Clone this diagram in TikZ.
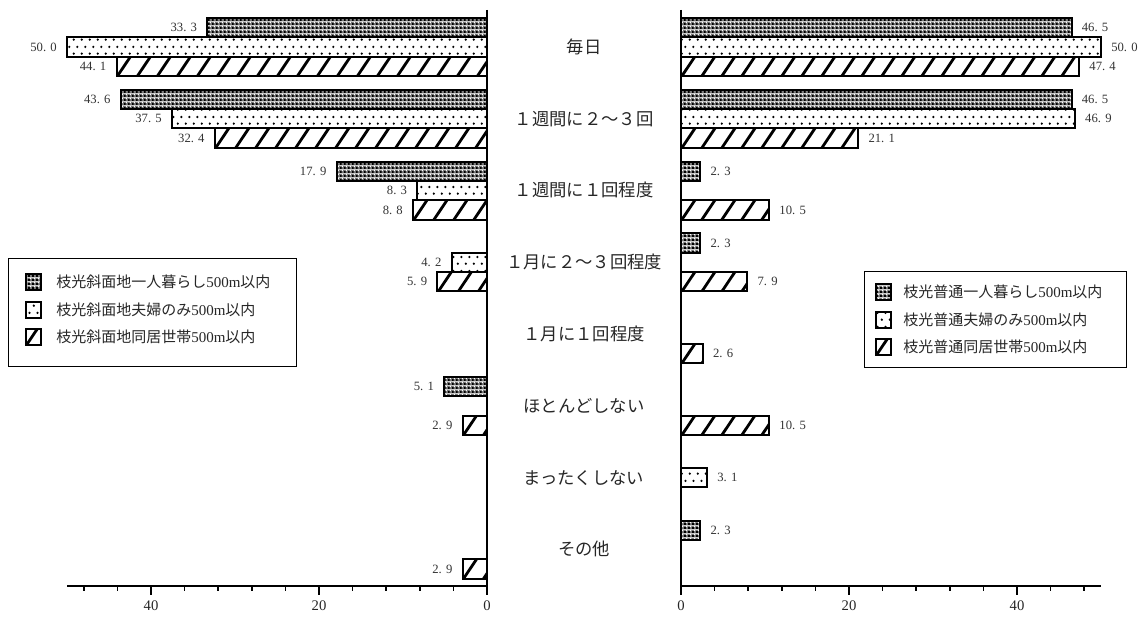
\documentclass[tikz,border=0pt]{standalone}
\usepackage{fontspec}
\setmainfont{Liberation Serif}
\newfontfamily\jp{Noto Sans CJK JP}
\newfontfamily\numfont{Liberation Serif}
\usetikzlibrary{patterns}

\pgfdeclarepatternformonly{mydots}{\pgfqpoint{0pt}{0pt}}{\pgfqpoint{6pt}{10.5pt}}{\pgfqpoint{6pt}{10.5pt}}{%
  \pgfpathcircle{\pgfqpoint{1.5pt}{2.6pt}}{1pt}%
  \pgfpathcircle{\pgfqpoint{4.5pt}{7.85pt}}{1pt}%
  \pgfusepath{fill}}

\pgfdeclarepatterninherentlycolored{mygray}{\pgfqpoint{0pt}{0pt}}{\pgfqpoint{3pt}{3pt}}{\pgfqpoint{3pt}{3pt}}{%
  \pgfsetfillcolor{black!55}%
  \pgfpathrectangle{\pgfqpoint{0pt}{0pt}}{\pgfqpoint{3pt}{3pt}}\pgfusepath{fill}%
  \pgfsetfillcolor{black}%
  \pgfpathrectangle{\pgfqpoint{0pt}{0pt}}{\pgfqpoint{1.6pt}{1.6pt}}\pgfusepath{fill}%
  \pgfsetfillcolor{white}%
  \pgfpathrectangle{\pgfqpoint{1.7pt}{1.7pt}}{\pgfqpoint{1pt}{1pt}}\pgfusepath{fill}}

\tikzset{
  bar/.style={draw, line width=1.5pt, inner sep=0pt, outer sep=0pt, minimum height=14.5pt},
  gbar/.style={bar, pattern=mygray},
  dbar/.style={bar, pattern=mydots},
  hatchfill/.style={path picture={
      \foreach \i in {-1,...,22}
        \draw[line width=2.1pt] ([xshift=\i*15pt, yshift=-1pt]path picture bounding box.south west) -- ++(10.4pt,15.5pt);
  }},
  hbar/.style={bar, fill=white, hatchfill},
  val/.style={font=\numfont\fontsize{9.5pt}{10pt}\selectfont, text=black!80, inner sep=0pt},
  cat/.style={font=\jp\fontsize{13pt}{15pt}\selectfont, text=black!85, inner sep=0pt},
  ticklab/.style={font=\fontsize{11pt}{12pt}\selectfont, text=black!85, inner sep=0pt},
  axisline/.style={line width=1.5pt},
  baseline/.style={line width=1.1pt},
  legbox/.style={draw, line width=0.7pt, inner sep=0pt, anchor=north west},
  swatch/.style={draw, line width=1.4pt, inner sep=0pt, minimum size=11.5pt},
  legtext/.style={font=\fontsize{11.25pt}{13pt}\selectfont, text=black!85, inner sep=0pt, anchor=west},
}

\begin{document}
\begin{tikzpicture}[x=0.75pt, y=-0.75pt]
\useasboundingbox (0,0) rectangle (1145,617);

% ---------- left chart bars ----------
\foreach \c/\v/\t in {0/33.3/{33. 3}, 1/43.6/{43. 6}, 2/17.9/{17. 9}, 5/5.1/{5. 1}} {
  \pgfmathsetmacro\yc{18+71.8*\c+9.67}
  \node[gbar, anchor=east, minimum width=6.3*\v pt] (bl-\c-0) at (487,\yc) {};
  \node[val, anchor=east] (tl-\c-0) at ([xshift=-7.5pt]bl-\c-0.west) {\t};
}
\foreach \c/\v/\t in {0/50.0/{50. 0}, 1/37.5/{37. 5}, 2/8.3/{8. 3}, 3/4.2/{4. 2}} {
  \pgfmathsetmacro\yc{18+71.8*\c+29}
  \node[dbar, anchor=east, minimum width=6.3*\v pt] (bl-\c-1) at (487,\yc) {};
  \node[val, anchor=east] (tl-\c-1) at ([xshift=-7.5pt]bl-\c-1.west) {\t};
}
\foreach \c/\v/\t in {0/44.1/{44. 1}, 1/32.4/{32. 4}, 2/8.8/{8. 8}, 3/5.9/{5. 9}, 5/2.9/{2. 9}, 7/2.9/{2. 9}} {
  \pgfmathsetmacro\yc{18+71.8*\c+48.33}
  \node[hbar, anchor=east, minimum width=6.3*\v pt] (bl-\c-2) at (487,\yc) {};
  \node[val, anchor=east] (tl-\c-2) at ([xshift=-7.5pt]bl-\c-2.west) {\t};
}

% ---------- right chart bars ----------
\foreach \c/\v/\t in {0/46.5/{46. 5}, 1/46.5/{46. 5}, 2/2.3/{2. 3}, 3/2.3/{2. 3}, 7/2.3/{2. 3}} {
  \pgfmathsetmacro\yc{18+71.8*\c+9.67}
  \node[gbar, anchor=west, minimum width=6.3*\v pt] (br-\c-0) at (681,\yc) {};
  \node[val, anchor=west] (tr-\c-0) at ([xshift=7.5pt]br-\c-0.east) {\t};
}
\foreach \c/\v/\t in {0/50.0/{50. 0}, 1/46.9/{46. 9}, 6/3.1/{3. 1}} {
  \pgfmathsetmacro\yc{18+71.8*\c+29}
  \node[dbar, anchor=west, minimum width=6.3*\v pt] (br-\c-1) at (681,\yc) {};
  \node[val, anchor=west] (tr-\c-1) at ([xshift=7.5pt]br-\c-1.east) {\t};
}
\foreach \c/\v/\t in {0/47.4/{47. 4}, 1/21.1/{21. 1}, 2/10.5/{10. 5}, 3/7.9/{7. 9}, 4/2.6/{2. 6}, 5/10.5/{10. 5}} {
  \pgfmathsetmacro\yc{18+71.8*\c+48.33}
  \node[hbar, anchor=west, minimum width=6.3*\v pt] (br-\c-2) at (681,\yc) {};
  \node[val, anchor=west] (tr-\c-2) at ([xshift=7.5pt]br-\c-2.east) {\t};
}

% ---------- axes ----------
\draw[axisline] (487,10) -- (487,595);
\draw[axisline] (681,10) -- (681,595);
\draw[baseline] (67,586) -- (487,586);
\draw[baseline] (681,586) -- (1101,586);
\foreach \k in {1,...,12} {
  \draw[baseline] (487-33.6*\k,586) -- ++(0,5);
  \draw[baseline] (681+33.6*\k,586) -- ++(0,5);
}
\foreach \k in {5,10} {
  \draw[baseline] (487-33.6*\k,586) -- ++(0,9);
  \draw[baseline] (681+33.6*\k,586) -- ++(0,9);
}
\node[ticklab] (xl0) at (487,606) {0};
\node[ticklab] (xl20) at (319,606) {20};
\node[ticklab] (xl40) at (151,606) {40};
\node[ticklab] (xr0) at (681,606) {0};
\node[ticklab] (xr20) at (849,606) {20};
\node[ticklab] (xr40) at (1017,606) {40};

% ---------- category labels ----------
\node[cat] (k0) at (584,47) {毎日};
\node[cat] (k1) at (584,119) {１週間に２～３回};
\node[cat] (k2) at (584,190) {１週間に１回程度};
\node[cat] (k3) at (584,262) {１月に２～３回程度};
\node[cat] (k4) at (584,334) {１月に１回程度};
\node[cat] (k5) at (584,406) {ほとんどしない};
\node[cat] (k6) at (584,478) {まったくしない};
\node[cat] (k7) at (584,549) {その他};

% ---------- left legend ----------
\node[legbox, minimum width=216pt, minimum height=81pt] (legL) at (8,258) {};
\node[swatch, pattern=mygray] (sL1) at (33.5,282) {};
\node[swatch, pattern=mydots] (sL2) at (33.5,310) {};
\node[swatch, fill=white, hatchfill] (sL3) at (33.5,337) {};
\node[legtext] (tL1) at (56,282) {{\jp 枝光斜面地一人暮らし}500m{\jp 以内}};
\node[legtext] (tL2) at (56,310) {{\jp 枝光斜面地夫婦のみ}500m{\jp 以内}};
\node[legtext] (tL3) at (56,337) {{\jp 枝光斜面地同居世帯}500m{\jp 以内}};

% ---------- right legend ----------
\node[legbox, minimum width=196.5pt, minimum height=72pt] (legR) at (864,271) {};
\node[swatch, pattern=mygray] (sR1) at (883.5,292) {};
\node[swatch, pattern=mydots] (sR2) at (883.5,320) {};
\node[swatch, fill=white, hatchfill] (sR3) at (883.5,347) {};
\node[legtext] (tR1) at (903,292) {{\jp 枝光普通一人暮らし}500m{\jp 以内}};
\node[legtext] (tR2) at (903,320) {{\jp 枝光普通夫婦のみ}500m{\jp 以内}};
\node[legtext] (tR3) at (903,347) {{\jp 枝光普通同居世帯}500m{\jp 以内}};
\end{tikzpicture}
\end{document}
